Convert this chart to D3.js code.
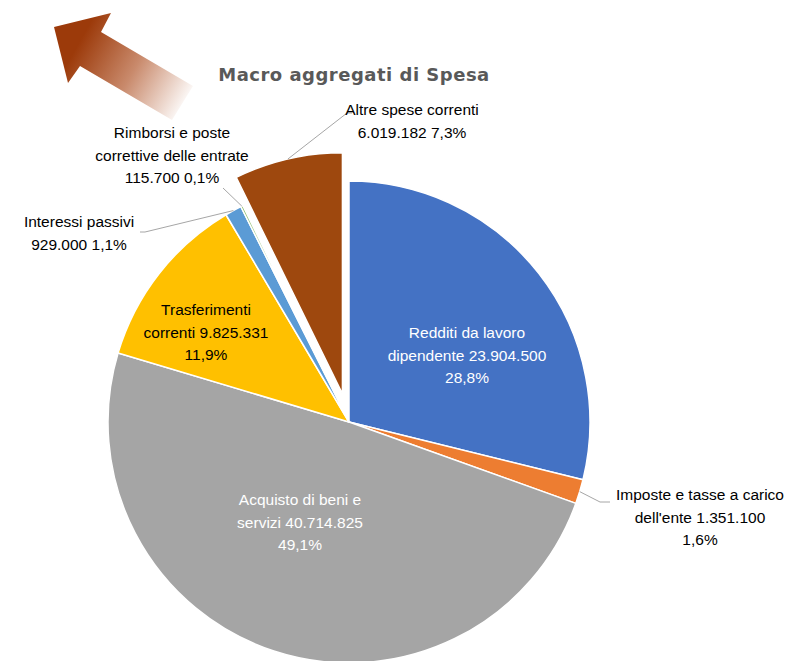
<!DOCTYPE html>
<html>
<head>
<meta charset="utf-8">
<script src="https://cdn.jsdelivr.net/npm/d3@7"></script>
<style>
body { margin:0; background:#fff; }
svg text { font-family: "Liberation Sans", Arial, sans-serif; }
</style>
</head>
<body>
<div id="chart"></div>
<script>
// dati del grafico
var categories = ["Redditi da lavoro dipendente", "Imposte e tasse a carico dell'ente", "Acquisto di beni e servizi",
  "Trasferimenti correnti", "Interessi passivi", "Rimborsi e poste correttive delle entrate", "Altre spese correnti"];
var values = [23904500, 1351100, 40714825, 9825331, 929000, 115700, 6019182];
var valueLabels = ["23.904.500", "1.351.100", "40.714.825", "9.825.331", "929.000", "115.700", "6.019.182"];
var pctLabels = ["28,8%", "1,6%", "49,1%", "11,9%", "1,1%", "0,1%", "7,3%"];
var colors = ["#4472C4", "#ED7D31", "#A5A5A5", "#FFC000", "#5B9BD5", "#70AD47", "#9E480E"];
var exploded = [0, 0, 0, 0, 0, 0, 1];

// righe delle etichette (testo)
var labelLines = [
  ["Redditi da lavoro", "dipendente 23.904.500", "28,8%"],
  ["Imposte e tasse a carico", "dell'ente 1.351.100", "1,6%"],
  ["Acquisto di beni e", "servizi  40.714.825", "49,1%"],
  ["Trasferimenti", "correnti 9.825.331", "11,9%"],
  ["Interessi passivi", "929.000 1,1%"],
  ["Rimborsi e poste", "correttive delle entrate", "115.700 0,1%"],
  ["Altre spese correnti", "6.019.182 7,3%"]
];

var width = 790, height = 661;
var cx = 349, cy = 422, radius = 241, explodeDist = 29;

var svg = d3.select("#chart").append("svg")
  .attr("width", width)
  .attr("height", height);

// freccia decorativa
var defs = svg.append("defs");
var grad = defs.append("linearGradient")
  .attr("id", "arrowGrad")
  .attr("gradientUnits", "userSpaceOnUse")
  .attr("x1", 62).attr("y1", 38)
  .attr("x2", 186).attr("y2", 108);
grad.append("stop").attr("offset", 0.12).attr("stop-color", "#9C3A0A");
grad.append("stop").attr("offset", 0.55).attr("stop-color", "#C98A6C");
grad.append("stop").attr("offset", 1).attr("stop-color", "#ffffff");

svg.append("path")
  .attr("d", "M54,27 L111,13 L101,32 L193,86 L172,120 L80,66 L68,83 Z")
  .attr("fill", "url(#arrowGrad)");

svg.append("text")
  .attr("x", 354)
  .attr("y", 81)
  .attr("text-anchor", "middle")
  .style("font-family", "'DejaVu Sans', Verdana, sans-serif")
  .style("font-weight", "bold")
  .style("font-size", "18px")
  .style("letter-spacing", "0.5px")
  .attr("fill", "#595959")
  .text("Macro aggregati di Spesa");

var pie = d3.pie().sort(null).value(function(d) { return d; });
var arcs = pie(values);

var arc = d3.arc().innerRadius(0).outerRadius(radius);

var g = svg.append("g")
  .attr("transform", "translate(" + cx + "," + cy + ")");

function midAngle(d) { return (d.startAngle + d.endAngle) / 2; }
function offset(d, i) {
  var a = midAngle(d), k = exploded[i] ? explodeDist : 0;
  return [Math.sin(a) * k, -Math.cos(a) * k];
}

g.selectAll(".slice")
  .data(arcs)
  .enter().append("path")
  .attr("class", "slice")
  .attr("transform", function(d, i) { var o = offset(d, i); return "translate(" + o[0] + "," + o[1] + ")"; })
  .attr("d", arc)
  .attr("fill", function(d, i) { return colors[i]; })
  .attr("stroke", "#fff")
  .attr("stroke-width", 1.5)
  .attr("stroke-linejoin", "round");

// posizione etichette (centro x, prima linea di base) relative al centro torta
var labelPos = [
  [118, -84], [351, 78], [-49, 83], [-143, -107], [-270, -195], [-177, -284], [63, -307]
];
var labelColor = ["#fff", "#000", "#fff", "#000", "#000", "#000", "#000"];
var lineH = 22.5;

// linee guida per le etichette esterne: gomito e fine
var leaders = {
  1: [[251, 80], [261, 80]],
  4: [[-204, -190], [-209, -190]],
  5: [[-126, -234], [-126, -234]],
  6: [[-2, -309], [3, -309]]
};

Object.keys(leaders).forEach(function(k) {
  var i = +k, d = arcs[i], a = midAngle(d), o = offset(d, i);
  var p0 = [Math.sin(a) * radius + o[0], -Math.cos(a) * radius + o[1]];
  var pts = [p0].concat(leaders[k]);
  g.append("path")
    .attr("d", d3.line()(pts))
    .attr("fill", "none")
    .attr("stroke", "#A6A6A6")
    .attr("stroke-width", 1);
});

labelLines.forEach(function(lines, i) {
  var t = g.append("text")
    .attr("text-anchor", "middle")
    .attr("fill", labelColor[i])
    .style("font-size", "15.5px");
  lines.forEach(function(s, j) {
    t.append("tspan")
      .attr("x", labelPos[i][0])
      .attr("y", labelPos[i][1] + j * lineH)
      .text(s);
  });
});
</script>
</body>
</html>
